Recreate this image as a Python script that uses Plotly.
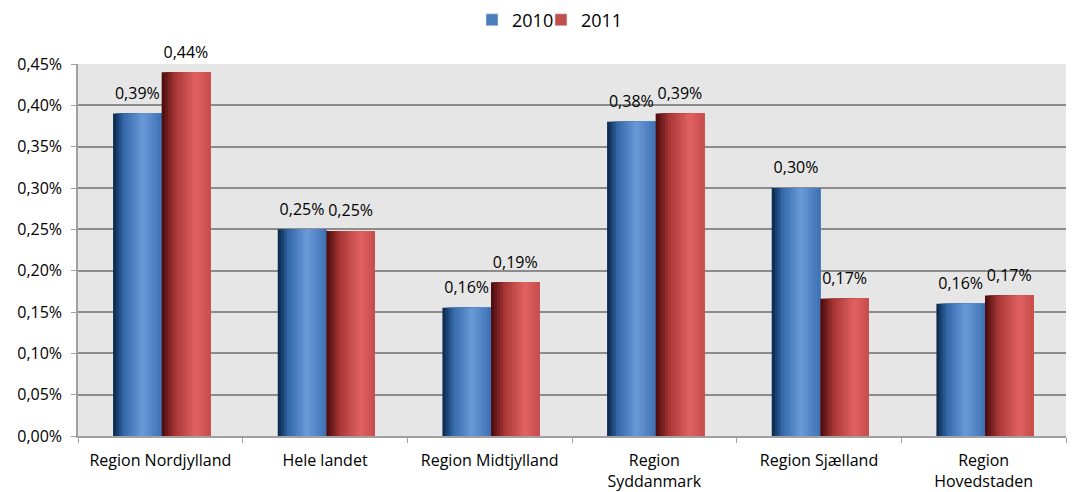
import plotly.graph_objects as go

categories = ["Region Nordjylland", "Hele landet", "Region Midtjylland",
              "Region<br>Syddanmark", "Region Sjælland", "Region<br>Hovedstaden"]
series_names = ["2010", "2011"]
values_2010 = [0.0039, 0.0025, 0.00155, 0.0038, 0.0030, 0.0016]
values_2011 = [0.0044, 0.00248, 0.00186, 0.0039, 0.00166, 0.0017]
label_2010 = ["0,39%", "0,25%", "0,16%", "0,38%", "0,30%", "0,16%"]
label_2011 = ["0,44%", "0,25%", "0,19%", "0,39%", "0,17%", "0,17%"]

FONT = "Open Sans"
BAR_W = 0.295
N = 16
LABEL_PAD = 0.00008  # extra gap between bar top and its label (style only)

def lerp(c1, c2, t):
    return tuple(int(round(a + (b - a) * t)) for a, b in zip(c1, c2))

def ramp(stops, t):
    for (t0, c0), (t1, c1) in zip(stops, stops[1:]):
        if t0 <= t <= t1:
            return lerp(c0, c1, (t - t0) / (t1 - t0) if t1 > t0 else 0)
    return stops[-1][1]

blue_stops = [(0, (8, 36, 70)), (0.22, (52, 104, 170)), (0.6, (106, 154, 216)), (1.0, (62, 112, 180))]
red_stops = [(0, (70, 10, 12)), (0.28, (168, 54, 54)), (0.7, (226, 98, 98)), (1.0, (198, 76, 76))]

fig = go.Figure()
for si, (name, vals, labels, stops, legcol, legref) in enumerate([
        ("2010", values_2010, label_2010, blue_stops, "#4a7ebb", "legend"),
        ("2011", values_2011, label_2011, red_stops, "#c0504d", "legend2")]):
    base = -BAR_W if si == 0 else 0.0
    sw = BAR_W / N
    for k in range(N):
        c = ramp(stops, (k + 0.5) / N)
        fig.add_trace(go.Bar(
            x=categories, y=vals, width=BAR_W - k * sw, offset=base + k * sw + 0.008,
            marker=dict(color="rgb(%d,%d,%d)" % c, line=dict(width=0)),
            showlegend=False, hoverinfo="skip", legendgroup=name))
    # label trace (transparent, lifted slightly for label spacing)
    fig.add_trace(go.Bar(
        x=categories, y=vals, base=LABEL_PAD, width=BAR_W, offset=base + 0.008,
        marker=dict(color="rgba(0,0,0,0)", line=dict(width=0)),
        text=labels, textposition="outside", cliponaxis=False, constraintext="none",
        textfont=dict(family=FONT, size=16, color="#000000"),
        showlegend=False, hoverinfo="skip", legendgroup=name))
    # legend-only
    fig.add_trace(go.Bar(x=[None], y=[None], name=name, marker=dict(color=legcol),
                         legendgroup=name, legend=legref))

leg_common = dict(orientation="h", y=1.118, yanchor="middle", xanchor="left",
                  font=dict(family=FONT, size=18), itemwidth=30,
                  bgcolor="rgba(0,0,0,0)")
fig.update_layout(
    width=1067, height=484,
    barmode="overlay",
    separators=",.",
    paper_bgcolor="white", plot_bgcolor="#e6e6e6",
    margin=dict(l=70, r=9, t=56, b=56, autoexpand=False),
    font=dict(family=FONT, size=14, color="#000000"),
    legend=dict(x=0.3988, **leg_common),
    legend2=dict(x=0.4686, **leg_common),
)
fig.update_yaxes(range=[0, 0.0045], dtick=0.0005, tickformat=".2%",
                 gridcolor="#8c8c8c", gridwidth=1.5, showline=True, linecolor="#a0a0a0",
                 linewidth=1.5, ticks="outside", ticklen=5, tickcolor="#a0a0a0",
                 zeroline=False, tickfont=dict(family=FONT, size=16), automargin=False,
                 ticklabelstandoff=6)
fig.update_xaxes(showline=True, linecolor="#a0a0a0", linewidth=1.5, ticks="outside",
                 tickson="boundaries", ticklen=5, tickcolor="#a0a0a0",
                 tickfont=dict(family=FONT, size=16), showgrid=False, automargin=False,
                 ticklabelstandoff=9)

fig.write_html("out.html")
